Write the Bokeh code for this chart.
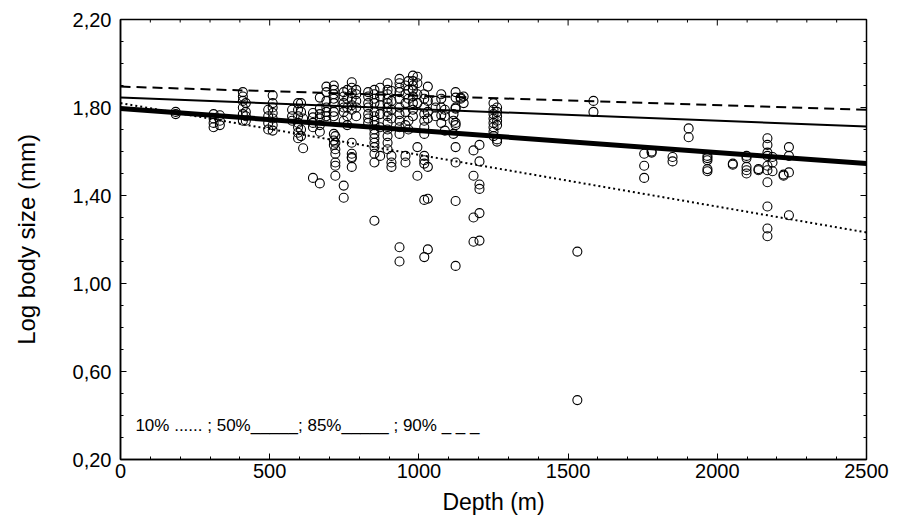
import math
from bokeh.plotting import figure
from bokeh.models import Range1d, FixedTicker, CustomJSTickFormatter, Label, ColumnDataSource
from bokeh.embed import file_html
from bokeh.resources import INLINE

# ---- data ----
col_depth = [185, 312, 333, 410, 420, 495, 510, 575, 595, 605, 612,
             645, 668, 690, 715, 720, 748, 760, 775, 790,
             830, 851, 870, 895, 908, 935, 955, 965,
             980, 995, 1018, 1030, 1056, 1075, 1087, 1116, 1123, 1140, 1150,
             1183, 1203, 1250, 1262, 1531, 1585,
             1755, 1780, 1850, 1904, 1967, 2052, 2098, 2138, 2168, 2185, 2222, 2240]
col_sizes = [
    [1.78, 1.77],
    [1.77, 1.73, 1.71, 1.75],
    [1.765, 1.72, 1.74],
    [1.87, 1.83, 1.80, 1.77, 1.74, 1.85],
    [1.82, 1.74, 1.78, 1.76],
    [1.79, 1.73, 1.76, 1.70],
    [1.855, 1.82, 1.80, 1.775, 1.72, 1.695, 1.75],
    [1.79, 1.76, 1.74],
    [1.82, 1.79, 1.76, 1.73, 1.685, 1.66, 1.71],
    [1.82, 1.67, 1.70, 1.78],
    [1.615, 1.75],
    [1.775, 1.755, 1.71, 1.73, 1.48],
    [1.795, 1.75, 1.72, 1.845, 1.455, 1.77, 1.69],
    [1.895, 1.87, 1.83, 1.80, 1.78, 1.76, 1.74],
    [1.90, 1.88, 1.86, 1.84, 1.82, 1.78, 1.76, 1.68, 1.65, 1.63],
    [1.59, 1.535, 1.49, 1.67, 1.64, 1.61, 1.55],
    [1.445, 1.39, 1.87, 1.85, 1.82, 1.80, 1.78, 1.74],
    [1.88, 1.84, 1.80, 1.76, 1.72],
    [1.64, 1.575, 1.53, 1.59, 1.57, 1.915, 1.89, 1.865, 1.84, 1.81, 1.79],
    [1.88, 1.86, 1.83, 1.80, 1.76],
    [1.87, 1.85, 1.82, 1.80, 1.77, 1.75, 1.73],
    [1.59, 1.62, 1.55, 1.68, 1.285, 1.88, 1.86, 1.84, 1.82, 1.78, 1.76, 1.74, 1.72, 1.70, 1.66, 1.64],
    [1.89, 1.85, 1.81, 1.77, 1.71, 1.58],
    [1.91, 1.88, 1.86, 1.84, 1.82, 1.80, 1.78, 1.76, 1.73, 1.70, 1.67, 1.64, 1.61],
    [1.53, 1.55, 1.58, 1.875, 1.83, 1.79, 1.75],
    [1.93, 1.91, 1.89, 1.87, 1.84, 1.80, 1.77, 1.74, 1.71, 1.68, 1.165, 1.10],
    [1.55, 1.58, 1.90, 1.86, 1.82, 1.78, 1.72],
    [1.92, 1.88, 1.84, 1.74, 1.70],
    [1.945, 1.92, 1.90, 1.88, 1.85, 1.82, 1.76, 1.79],
    [1.49, 1.62, 1.94, 1.91, 1.86, 1.82],
    [1.12, 1.38, 1.58, 1.545, 1.56, 1.86, 1.84, 1.80, 1.77, 1.74, 1.71, 1.68],
    [1.155, 1.385, 1.53, 1.895, 1.83, 1.78, 1.75],
    [1.83, 1.80, 1.76],
    [1.86, 1.84, 1.80, 1.765, 1.73],
    [1.695, 1.79, 1.76],
    [1.68, 1.77, 1.74],
    [1.87, 1.845, 1.80, 1.795, 1.73, 1.72, 1.62, 1.55, 1.375, 1.08],
    [1.845, 1.84],
    [1.85, 1.82],
    [1.605, 1.49, 1.19, 1.30],
    [1.63, 1.555, 1.45, 1.43, 1.32, 1.195],
    [1.82, 1.79, 1.77, 1.75, 1.73, 1.71, 1.69, 1.67],
    [1.80, 1.78, 1.76, 1.72, 1.655, 1.645, 1.74],
    [1.145, 0.47],
    [1.83, 1.78],
    [1.59, 1.535, 1.48],
    [1.595, 1.60],
    [1.575, 1.555],
    [1.705, 1.665],
    [1.58, 1.56, 1.52, 1.51, 1.57],
    [1.545, 1.54],
    [1.58, 1.53, 1.515, 1.50, 1.57],
    [1.515, 1.52],
    [1.66, 1.63, 1.595, 1.58, 1.535, 1.515, 1.46, 1.35, 1.25, 1.215],
    [1.575, 1.51, 1.55],
    [1.49, 1.495],
    [1.62, 1.58, 1.505, 1.31],
]

# quantile regression lines (end points)
line_depth = [0, 2500]
q10 = [1.82, 1.232]
q50 = [1.795, 1.545]
q85 = [1.845, 1.714]
q90 = [1.895, 1.79]

x_ticks = [0, 500, 1000, 1500, 2000, 2500]
y_ticks = [0.2, 0.6, 1.0, 1.4, 1.8, 2.2]
x_title = "Depth (m)"
y_title = "Log body size (mm)"
legend_text = "10% ...... ; 50%_____; 85%_____ ; 90% _ _ _"

X_MIN, X_MAX = 0, 2500
Y_MIN, Y_MAX = 0.2, 2.2

# ---- build ----
xs, ys = [], []
for d, vals in zip(col_depth, col_sizes):
    for v in vals:
        xs.append(d)
        ys.append(v)
src = ColumnDataSource(dict(x=xs, y=ys))

FONT = "Liberation Sans"

p = figure(width=896, height=518, output_backend="svg", toolbar_location=None,
           x_range=Range1d(X_MIN, X_MAX), y_range=Range1d(Y_MIN, Y_MAX),
           min_border_left=120, min_border_right=30, min_border_top=19, min_border_bottom=59,
           background_fill_color="white", border_fill_color="white")
p.grid.visible = False
p.outline_line_color = "black"
p.outline_line_width = 1.5

x_minor = [i * 100 for i in range(0, 26)]
y_minor = [i / 10 for i in range(2, 23)]

def style(ax):
    ax.axis_line_color = "black"
    ax.axis_line_width = 1.5
    ax.major_tick_in = 6
    ax.major_tick_out = 0
    ax.minor_tick_in = 3
    ax.minor_tick_out = 0
    ax.major_tick_line_color = "black"
    ax.minor_tick_line_color = "black"
    ax.major_label_text_font = FONT
    ax.major_label_text_color = "black"
    ax.major_label_text_font_size = "20px"

xa = p.xaxis[0]
xa.ticker = FixedTicker(ticks=x_ticks, minor_ticks=x_minor)
style(xa)
xa.major_label_standoff = 4
xa.axis_label = x_title
xa.axis_label_text_font = FONT
xa.axis_label_text_font_size = "23px"
xa.axis_label_text_font_style = "normal"
xa.axis_label_text_color = "black"
xa.axis_label_standoff = 8

ya = p.yaxis[0]
ya.ticker = FixedTicker(ticks=y_ticks, minor_ticks=y_minor)
ya.formatter = CustomJSTickFormatter(code="return tick.toFixed(2).replace('.', ',');")
style(ya)
ya.major_label_standoff = 9
ya.axis_label = y_title
ya.axis_label_text_font = FONT
ya.axis_label_text_font_size = "24px"
ya.axis_label_text_font_style = "normal"
ya.axis_label_text_color = "black"
ya.axis_label_standoff = 30

# mirrored inward ticks on top and right frame edges (dash markers clipped by the frame)
x_major_set = set(x_ticks)
top_minor = [t for t in x_minor if t not in x_major_set]
p.scatter(x_ticks, [Y_MAX] * len(x_ticks), marker="dash", angle=math.pi / 2, size=12,
          line_color="black", line_width=1)
p.scatter(top_minor, [Y_MAX] * len(top_minor), marker="dash", angle=math.pi / 2, size=6,
          line_color="black", line_width=1)
right_minor = [t for t in y_minor if all(abs(t - m) > 1e-9 for m in y_ticks)]
p.scatter([X_MAX] * len(y_ticks), y_ticks, marker="dash", size=12,
          line_color="black", line_width=1)
p.scatter([X_MAX] * len(right_minor), right_minor, marker="dash", size=6,
          line_color="black", line_width=1)

p.scatter("x", "y", source=src, marker="circle", size=9, fill_alpha=0,
          line_color="black", line_width=1.1)

p.line(line_depth, q90, line_color="black", line_width=2, line_dash="10 6")
p.line(line_depth, q85, line_color="black", line_width=2)
p.line(line_depth, q50, line_color="black", line_width=5)
p.line(line_depth, q10, line_color="black", line_width=2, line_dash="2 3")

p.add_layout(Label(x=50, y=0.355, text=legend_text, text_font=FONT, text_font_size="17px",
                   text_baseline="middle", text_color="black"))

open("out.html", "w").write(file_html(p, INLINE))
